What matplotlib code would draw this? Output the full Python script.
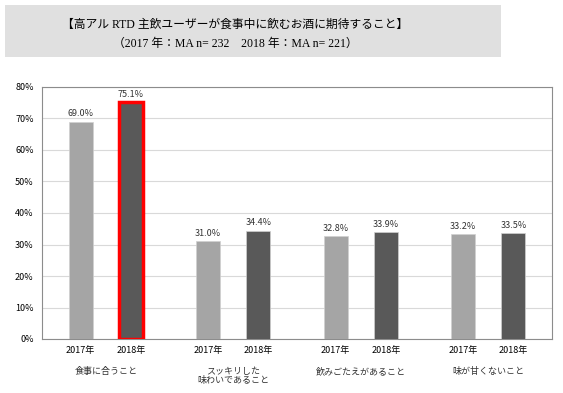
import numpy as np
import matplotlib
matplotlib.use("Agg")
import matplotlib.pyplot as plt
from matplotlib.patches import Rectangle

categories = ["食事に合うこと", "スッキリした\n味わいであること", "飲みごたえがあること", "味が甘くないこと"]
years = ["2017年", "2018年"]
values_2017 = [69.0, 31.0, 32.8, 33.2]
values_2018 = [75.1, 34.4, 33.9, 33.5]

title_lines = ["【高アル RTD 主飲ユーザーが食事中に飲むお酒に期待すること】",
               "（2017 年：MA n= 232　2018 年：MA n= 221）"]

plt.rcParams['font.family'] = ['Noto Sans CJK JP', 'DejaVu Sans']

fig = plt.figure(figsize=(5.63, 3.93), dpi=100)

# title box
fig.patches.append(Rectangle((5 / 563, 1 - 57 / 393), 496 / 563, 52 / 393,
                             transform=fig.transFigure, facecolor="#e0e0e0",
                             edgecolor="none", zorder=0))
serif = ['Liberation Serif', 'Noto Sans CJK JP']
fig.text(235 / 563, 1 - 25 / 393, title_lines[0], ha="center", va="center",
         fontsize=8.5, family=serif)
fig.text(235 / 563, 1 - 44 / 393, title_lines[1], ha="center", va="center",
         fontsize=8.5, family=serif)

ax = fig.add_axes([42 / 563, 1 - 339 / 393, 510 / 563, 252 / 393])

x = np.arange(len(categories))
off = 0.197
w = 0.19
b1 = ax.bar(x - off, values_2017, w, color="#a5a5a5", edgecolor="#d0d0d0", linewidth=0.5, zorder=3)
b2 = ax.bar(x + off, values_2018, w, color="#595959", edgecolor="#d0d0d0", linewidth=0.5, zorder=3)
# highlight first 2018 bar
b2[0].set_edgecolor("#ff0000")
b2[0].set_linewidth(2.5)

for bars, vals in ((b1, values_2017), (b2, values_2018)):
    for bar, v in zip(bars, vals):
        ax.text(bar.get_x() + bar.get_width() / 2, v + 1.0, f"{v:.1f}%",
                ha="center", va="bottom", fontsize=6.5, color="#333333")

ax.set_xlim(-0.5, 3.5)
ax.set_ylim(0, 80)
ax.set_yticks(range(0, 81, 10))
ax.set_yticklabels([f"{t}%" for t in range(0, 81, 10)])
ax.yaxis.grid(True, color="#d9d9d9", linewidth=0.8, zorder=0)
ax.set_axisbelow(True)
ax.tick_params(axis="y", length=0, labelsize=6.5, pad=6)

pos = np.concatenate([x - off, x + off])
ax.set_xticks(pos)
ax.set_xticklabels([years[0]] * 4 + [years[1]] * 4)
ax.tick_params(axis="x", length=0, labelsize=6.5, pad=5)

for i, c in enumerate(categories):
    ax.text(x[i], -8.8, c, transform=ax.transData, ha="center", va="top",
            fontsize=6.5, color="#333333", linespacing=1.1)

for s in ax.spines.values():
    s.set_color("#8c8c8c")
    s.set_linewidth(0.8)

fig.savefig("out.png", dpi=100)
